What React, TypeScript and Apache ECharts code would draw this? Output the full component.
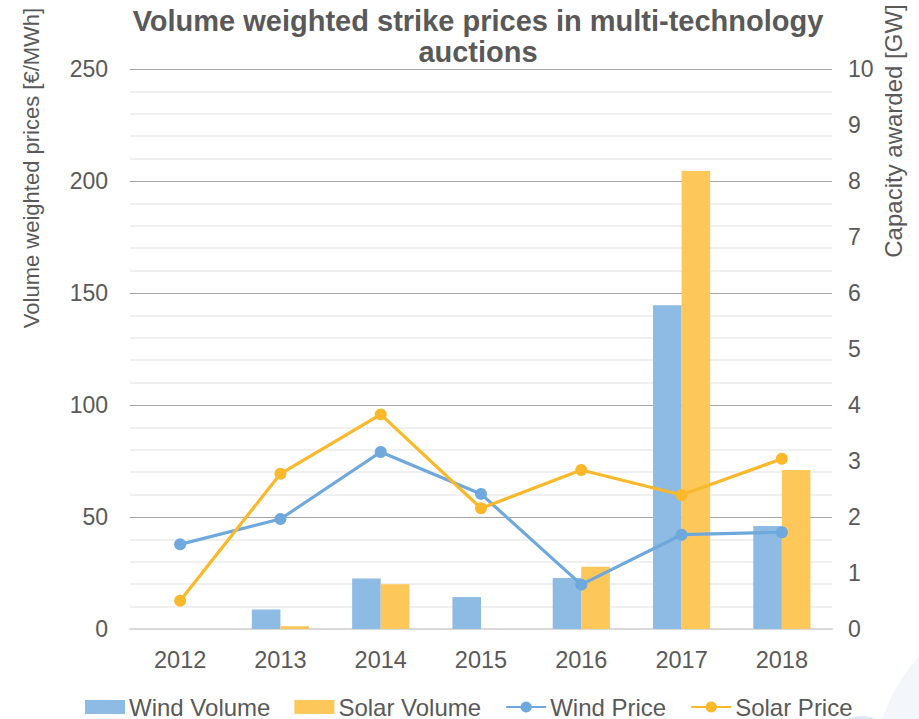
import React, { useEffect, useRef } from "react";
import * as echarts from "echarts";

const years = ["2012", "2013", "2014", "2015", "2016", "2017", "2018"];
const windVolume = [0, 0.35, 0.9, 0.57, 0.91, 5.78, 1.84];
const solarVolume = [0, 0.05, 0.8, 0, 1.11, 8.18, 2.84];
const windPrice = [37.8, 49.1, 79.0, 60.3, 19.8, 42.1, 43.2];
const solarPrice = [12.6, 69.3, 95.8, 53.9, 71.0, 59.8, 76.0];
const leftTicks = { min: 0, max: 250, interval: 50 };
const rightTicks = { min: 0, max: 10, interval: 1 };

const FONT = "'Liberation Sans', Arial, sans-serif";
const TXT = "#595959";
const WIND_BAR = "#8dbbe3";
const SOLAR_BAR = "#fdc75a";
const WIND_LINE = "#6fa8dc";
const SOLAR_LINE = "#fbb82a";

export default function App() {
  const ref = useRef<HTMLDivElement>(null);
  useEffect(() => {
    if (!ref.current) return;
    const chart = echarts.init(ref.current, undefined, { renderer: "svg" });
    chart.setOption({
      animation: false,
      backgroundColor: "#ffffff",
      textStyle: { fontFamily: FONT, color: TXT },
      title: {
        text: "Volume weighted strike prices in multi-technology\nauctions",
        left: 473,
        textAlign: "center",
        top: 0,
        textStyle: {
          fontFamily: FONT,
          fontSize: 29,
          fontWeight: "bold",
          color: TXT,
          lineHeight: 31,
        },
      },
      graphic: [
        {
          type: "circle",
          z: -10,
          silent: true,
          shape: { cx: 1060, cy: 780, r: 188 },
          style: { fill: "#f3f7fb" },
        },
        {
          type: "circle",
          z: -9,
          silent: true,
          shape: { cx: 862, cy: 750, r: 34 },
          style: { fill: "#dce9f5" },
        },
        {
          type: "text",
          silent: true,
          x: 31,
          y: 168,
          rotation: Math.PI / 2,
          style: {
            text: "Volume weighted prices [€/MWh]",
            fontFamily: FONT,
            fontSize: 22,
            fill: TXT,
            align: "center",
            verticalAlign: "middle",
          },
        },
        {
          type: "text",
          silent: true,
          x: 893,
          y: 131,
          rotation: Math.PI / 2,
          style: {
            text: "Capacity awarded [GW]",
            fontFamily: FONT,
            fontSize: 24,
            fill: TXT,
            align: "center",
            verticalAlign: "middle",
          },
        },
      ],
      legend: {
        left: 80,
        top: 690,
        itemWidth: 40,
        itemHeight: 14,
        itemGap: 24,
        textStyle: {
          fontFamily: FONT,
          fontSize: 24,
          lineHeight: 24,
          color: TXT,
          padding: [0, 0, 0, -1],
        },
        data: [
          { name: "Wind Volume", icon: "rect" },
          { name: "Solar Volume", icon: "rect" },
          { name: "Wind Price" },
          { name: "Solar Price" },
        ],
      },
      grid: { left: 130, right: 87, top: 69, bottom: 90 },
      xAxis: {
        type: "category",
        data: years,
        axisLine: { show: true, lineStyle: { color: "#d9d9d9", width: 2 } },
        axisTick: { show: false },
        axisLabel: { fontFamily: FONT, fontSize: 23.5, color: TXT, margin: 19 },
      },
      yAxis: [
        {
          type: "value",
          min: leftTicks.min,
          max: leftTicks.max,
          interval: leftTicks.interval,
          axisLine: { show: false },
          axisTick: { show: false },
          axisLabel: { fontFamily: FONT, fontSize: 23, color: TXT, margin: 22 },
          splitLine: { show: true, lineStyle: { color: "#a6a6a6", width: 1.2 } },
          minorTick: { show: false, splitNumber: 5 },
          minorSplitLine: { show: true, lineStyle: { color: "#ebebeb", width: 1.5 } },
        },
        {
          type: "value",
          min: rightTicks.min,
          max: rightTicks.max,
          interval: rightTicks.interval,
          position: "right",
          axisLine: { show: false },
          axisTick: { show: false },
          axisLabel: { fontFamily: FONT, fontSize: 23, color: TXT, margin: 16 },
          splitLine: { show: false },
        },
      ],
      series: [
        {
          name: "Wind Volume",
          type: "bar",
          yAxisIndex: 1,
          data: windVolume,
          barGap: "0%",
          barCategoryGap: "43%",
          itemStyle: { color: WIND_BAR },
        },
        {
          name: "Solar Volume",
          type: "bar",
          yAxisIndex: 1,
          data: solarVolume,
          barGap: "0%",
          barCategoryGap: "43%",
          itemStyle: { color: SOLAR_BAR },
        },
        {
          name: "Wind Price",
          type: "line",
          yAxisIndex: 0,
          data: windPrice,
          symbol: "circle",
          symbolSize: 12,
          lineStyle: { color: WIND_LINE, width: 3.2 },
          itemStyle: { color: WIND_LINE },
        },
        {
          name: "Solar Price",
          type: "line",
          yAxisIndex: 0,
          data: solarPrice,
          symbol: "circle",
          symbolSize: 12,
          lineStyle: { color: SOLAR_LINE, width: 3.2 },
          itemStyle: { color: SOLAR_LINE },
        },
      ],
    });
    return () => chart.dispose();
  }, []);
  return (
    <div
      ref={ref}
      style={{ position: "absolute", left: 0, top: 0, width: 919, height: 719 }}
    />
  );
}
